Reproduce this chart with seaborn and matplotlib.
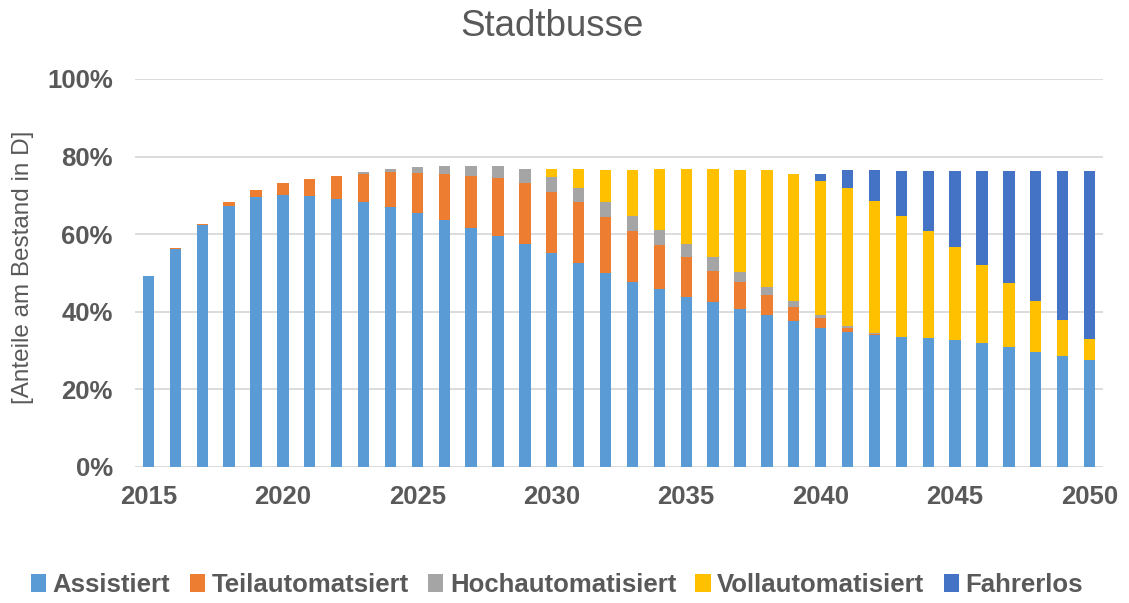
import matplotlib
matplotlib.use("Agg")
import matplotlib.pyplot as plt
from matplotlib.patches import Patch
import numpy as np
import pandas as pd
import seaborn as sns

sns.set_theme(style="white")
plt.rcParams["font.family"] = ["Liberation Sans", "DejaVu Sans"]

TEXT_GREY = "#595959"

# Jahre 2015..2050
jahre = list(range(2015, 2051))

# Anteile je Automatisierungsstufe (in %)
assistiert = [49.3, 56.2, 62.3, 67.3, 69.5, 70.2, 69.8, 69.1, 68.2, 67.0,
              65.4, 63.7, 61.6, 59.6, 57.4, 55.1, 52.7, 50.0, 47.8, 45.8,
              43.9, 42.4, 40.8, 39.2, 37.6, 35.9, 34.8, 34.1, 33.5, 33.2,
              32.7, 31.9, 30.8, 29.7, 28.6, 27.6]
teilautomatisiert = [0.0, 0.2, 0.3, 0.9, 2.0, 3.0, 4.4, 6.0, 7.4, 9.0,
                     10.5, 11.9, 13.4, 14.9, 15.8, 15.9, 15.5, 14.5, 13.0, 11.5,
                     10.1, 8.2, 6.8, 5.2, 3.7, 2.4, 1.1, 0.3, 0.1, 0.0,
                     0.0, 0.0, 0.0, 0.0, 0.0, 0.0]
hochautomatisiert = [0.0, 0.0, 0.0, 0.0, 0.0, 0.0, 0.0, 0.0, 0.4, 0.7,
                     1.4, 1.9, 2.5, 3.2, 3.5, 3.8, 3.8, 3.9, 3.9, 3.9,
                     3.5, 3.4, 2.6, 2.1, 1.5, 0.9, 0.5, 0.2, 0.0, 0.0,
                     0.0, 0.0, 0.0, 0.0, 0.0, 0.0]
vollautomatisiert = [0.0, 0.0, 0.0, 0.0, 0.0, 0.0, 0.0, 0.0, 0.0, 0.0,
                     0.0, 0.0, 0.0, 0.0, 0.0, 1.9, 4.7, 8.1, 11.8, 15.5,
                     19.2, 22.7, 26.4, 30.0, 32.8, 34.5, 35.6, 34.0, 31.1, 27.6,
                     23.9, 20.2, 16.7, 13.0, 9.3, 5.4]
fahrerlos = [0.0, 0.0, 0.0, 0.0, 0.0, 0.0, 0.0, 0.0, 0.0, 0.0,
             0.0, 0.0, 0.0, 0.0, 0.0, 0.0, 0.0, 0.0, 0.0, 0.0,
             0.0, 0.0, 0.0, 0.0, 0.0, 1.9, 4.5, 8.0, 11.7, 15.6,
             19.8, 24.3, 28.9, 33.6, 38.4, 43.3]

serien = ["Assistiert", "Teilautomatsiert", "Hochautomatisiert",
          "Vollautomatisiert", "Fahrerlos"]
farben = ["#5B9BD5", "#ED7D31", "#A5A5A5", "#FFC000", "#4472C4"]

werte = np.array([assistiert, teilautomatisiert, hochautomatisiert,
                  vollautomatisiert, fahrerlos]) / 100.0
kumuliert = werte.cumsum(axis=0)

labels = [str(j) for j in jahre]
df = pd.DataFrame({
    "Jahr": np.tile(labels, len(serien)),
    "Stufe": np.repeat(serien, len(jahre)),
    "kum": kumuliert.ravel(),
})

fig = plt.figure(figsize=(11.29, 6.03), dpi=100)
ax = fig.add_axes([135 / 1129, 1 - 467 / 603, (1103 - 135) / 1129, (467 - 79) / 603])

# gestapelt: oberste Stufe zuerst, darunterliegende überdecken
for stufe, farbe in reversed(list(zip(serien, farben))):
    sub = df[df["Stufe"] == stufe]
    sns.barplot(data=sub, x="Jahr", y="kum", order=labels, color=farbe,
                saturation=1, width=0.42, linewidth=0, ax=ax)

ax.set_xlim(-0.5, len(jahre) - 0.5)
ax.set_ylim(0, 1)
ax.set_yticks(np.linspace(0, 1, 6))
ax.set_yticklabels([f"{int(v * 100)}%" for v in np.linspace(0, 1, 6)])
pos = [i for i, j in enumerate(jahre) if j % 5 == 0]
ax.set_xticks(pos)
ax.set_xticklabels([labels[i] for i in pos])
ax.yaxis.grid(True, color="#D9D9D9", linewidth=1.3)
ax.set_axisbelow(True)
for s in ax.spines.values():
    s.set_visible(False)
ax.tick_params(axis="both", length=0, colors=TEXT_GREY, labelsize=18.5)
ax.tick_params(axis="y", pad=16)
ax.tick_params(axis="x", pad=13)
for t in ax.get_xticklabels() + ax.get_yticklabels():
    t.set_fontweight("bold")
ax.set_xlabel("")
ax.set_ylabel("")

fig.text(23 / 1129, 1 - 267 / 603, "[Anteile am Bestand in D]", rotation=90,
         ha="center", va="center", fontsize=17.5, color=TEXT_GREY)
fig.text(552 / 1129, 1 - 27 / 603, "Stadtbusse", ha="center", va="center",
         fontsize=26.5, color=TEXT_GREY)

handles = [Patch(facecolor=f, edgecolor="none", label=s) for s, f in zip(serien, farben)]
leg = fig.legend(handles=handles, loc="center", bbox_to_anchor=(557 / 1129, 1 - 585 / 603),
                 ncol=5, frameon=False, handlelength=0.6, handleheight=0.75,
                 handletextpad=0.25, columnspacing=0.75,
                 prop={"size": 18.5, "weight": "bold"})
for t in leg.get_texts():
    t.set_color(TEXT_GREY)

fig.savefig("out.png", dpi=100)
